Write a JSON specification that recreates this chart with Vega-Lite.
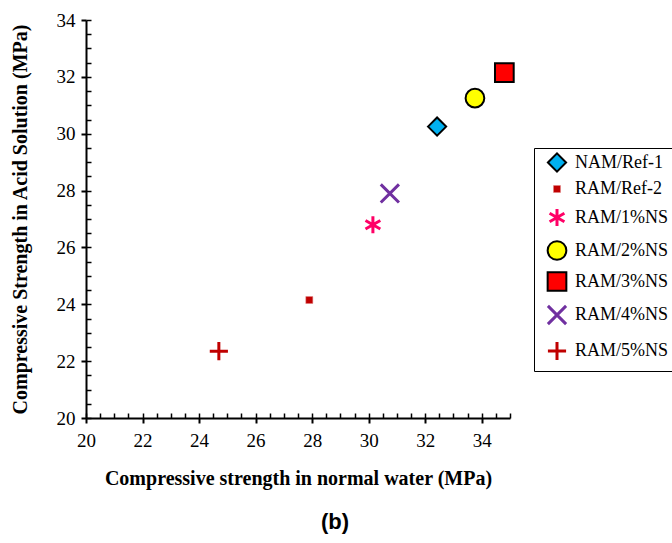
{
  "$schema": "https://vega.github.io/schema/vega-lite/v6.json",
  "autosize": {"type": "none"},
  "width": 424,
  "height": 398,
  "padding": {"left": 86, "top": 20, "right": 162, "bottom": 125},
  "background": "white",
  "config": {
    "view": {"stroke": null},
    "font": "Liberation Serif"
  },
  "title": {
    "text": "(b)",
    "orient": "bottom",
    "anchor": "middle",
    "font": "Liberation Sans",
    "fontSize": 22,
    "fontWeight": "bold",
    "color": "black",
    "dx": 37,
    "offset": 24
  },
  "data": {
    "values": [
      {"mix": "NAM/Ref-1", "water": 32.42, "acid": 30.25},
      {"mix": "RAM/Ref-2", "water": 27.9, "acid": 24.15},
      {"mix": "RAM/1%NS", "water": 30.15, "acid": 26.8},
      {"mix": "RAM/2%NS", "water": 33.76, "acid": 31.25},
      {"mix": "RAM/3%NS", "water": 34.8, "acid": 32.15},
      {"mix": "RAM/4%NS", "water": 30.75, "acid": 27.9},
      {"mix": "RAM/5%NS", "water": 24.7, "acid": 22.35}
    ]
  },
  "resolve": {"axis": {"x": "independent", "y": "independent"}},
  "layer": [
    {
      "mark": {"type": "point", "filled": false, "opacity": 1},
      "encoding": {
        "x": {
          "field": "water", "type": "quantitative",
          "scale": {"domain": [20, 35], "nice": false, "zero": false},
          "axis": {
            "orient": "bottom",
            "values": [20, 22, 24, 26, 28, 30, 32, 34],
            "title": "Compressive strength in normal water (MPa)",
            "titleFont": "Liberation Serif", "titleFontSize": 20, "titleFontWeight": "bold",
            "titleColor": "black", "titlePadding": 18,
            "labelFont": "Liberation Serif", "labelFontSize": 19, "labelColor": "black",
            "labelPadding": 8, "labelFlush": false,
            "domainColor": "black", "domainWidth": 2,
            "tickColor": "black", "tickWidth": 2, "tickSize": 5,
            "grid": false
          }
        },
        "y": {
          "field": "acid", "type": "quantitative",
          "scale": {"domain": [20, 34], "nice": false, "zero": false},
          "axis": {
            "orient": "left",
            "values": [20, 22, 24, 26, 28, 30, 32, 34],
            "title": "Compressive Strength in Acid Solution (MPa)",
            "titleFont": "Liberation Serif", "titleFontSize": 20, "titleFontWeight": "bold",
            "titleColor": "black", "titlePadding": 26,
            "labelFont": "Liberation Serif", "labelFontSize": 19, "labelColor": "black",
            "labelPadding": 6, "labelFlush": false,
            "domainColor": "black", "domainWidth": 2,
            "tickColor": "black", "tickWidth": 2, "tickSize": 5,
            "grid": false
          }
        },
        "shape": {
          "field": "mix", "type": "nominal",
          "scale": {
            "domain": ["NAM/Ref-1", "RAM/Ref-2", "RAM/1%NS", "RAM/2%NS", "RAM/3%NS", "RAM/4%NS", "RAM/5%NS"],
            "range": ["diamond", "square", "M0,-1L0,1M-0.87,-0.5L0.87,0.5M-0.87,0.5L0.87,-0.5", "circle", "square", "M-1,-1L1,1M-1,1L1,-1", "M-1,0L1,0M0,-1L0,1"]
          },
          "legend": {
            "title": null,
            "orient": "none",
            "legendX": 448,
            "legendY": 128,
            "direction": "vertical",
            "strokeColor": "black",
            "fillColor": "white",
            "padding": 4,
            "symbolOffset": 8,
            "labelFont": "Liberation Serif",
            "labelFontSize": 18,
            "labelColor": "black",
            "labelOffset": 7,
            "rowPadding": 4,
            "symbolOpacity": 1
          }
        },
        "fill": {
          "field": "mix", "type": "nominal",
          "scale": {
            "domain": ["NAM/Ref-1", "RAM/Ref-2", "RAM/1%NS", "RAM/2%NS", "RAM/3%NS", "RAM/4%NS", "RAM/5%NS"],
            "range": ["#00B0F0", "#C00000", "transparent", "#FFFF00", "#FF0000", "transparent", "transparent"]
          },
          "legend": {"title": null, "orient": "none", "legendX": 448, "legendY": 128}
        },
        "stroke": {
          "field": "mix", "type": "nominal",
          "scale": {
            "domain": ["NAM/Ref-1", "RAM/Ref-2", "RAM/1%NS", "RAM/2%NS", "RAM/3%NS", "RAM/4%NS", "RAM/5%NS"],
            "range": ["#000000", "#E08080", "#FF0066", "#000000", "#000000", "#7030A0", "#C00000"]
          },
          "legend": {"title": null, "orient": "none", "legendX": 448, "legendY": 128}
        },
        "size": {
          "field": "mix", "type": "nominal",
          "scale": {
            "type": "ordinal",
            "domain": ["NAM/Ref-1", "RAM/Ref-2", "RAM/1%NS", "RAM/2%NS", "RAM/3%NS", "RAM/4%NS", "RAM/5%NS"],
            "range": [330, 49, 290, 350, 350, 330, 330]
          },
          "legend": {"title": null, "orient": "none", "legendX": 448, "legendY": 128}
        },
        "strokeWidth": {
          "field": "mix", "type": "nominal",
          "scale": {
            "type": "ordinal",
            "domain": ["NAM/Ref-1", "RAM/Ref-2", "RAM/1%NS", "RAM/2%NS", "RAM/3%NS", "RAM/4%NS", "RAM/5%NS"],
            "range": [2, 0.5, 3, 2, 2, 3, 3]
          },
          "legend": {"title": null, "orient": "none", "legendX": 448, "legendY": 128}
        }
      }
    },
    {
      "mark": {"type": "point", "opacity": 0},
      "encoding": {
        "x": {
          "field": "water", "type": "quantitative",
          "scale": {"domain": [20, 35], "nice": false, "zero": false},
          "axis": {
            "orient": "bottom",
            "values": [20, 20.5, 21, 21.5, 22, 22.5, 23, 23.5, 24, 24.5, 25, 25.5, 26, 26.5, 27, 27.5, 28, 28.5, 29, 29.5, 30, 30.5, 31, 31.5, 32, 32.5, 33, 33.5, 34, 34.5, 35],
            "title": null, "labels": false, "domain": false, "grid": false,
            "tickColor": "black", "tickWidth": 1.5, "tickSize": -5
          }
        },
        "y": {
          "field": "acid", "type": "quantitative",
          "scale": {"domain": [20, 34], "nice": false, "zero": false},
          "axis": {
            "orient": "left",
            "values": [20, 20.5, 21, 21.5, 22, 22.5, 23, 23.5, 24, 24.5, 25, 25.5, 26, 26.5, 27, 27.5, 28, 28.5, 29, 29.5, 30, 30.5, 31, 31.5, 32, 32.5, 33, 33.5, 34],
            "title": null, "labels": false, "domain": false, "grid": false,
            "tickColor": "black", "tickWidth": 1.5, "tickSize": -5
          }
        }
      }
    }
  ]
}
